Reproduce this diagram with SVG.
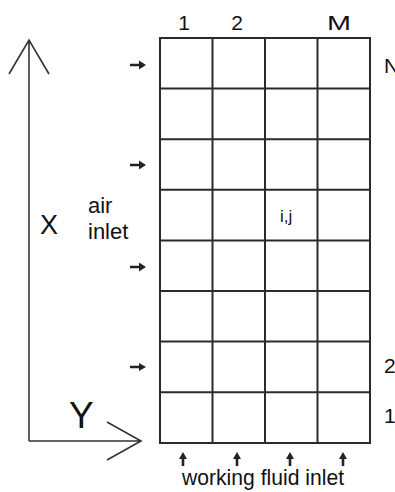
<svg xmlns="http://www.w3.org/2000/svg" width="395" height="492" viewBox="0 0 395 492">
<style>
text{font-family:"Liberation Sans",Arial,sans-serif;fill:#111}
.g{stroke:#2b2b2b;stroke-width:2;fill:none}
.ax{stroke:#333;stroke-width:1.6;fill:none}
.ar{stroke:#222;stroke-width:2.6;fill:none}
.ah{fill:#222}
</style>
<rect width="395" height="492" fill="#fff"/>
<g id="grid">
<rect class="g" x="160" y="38" width="210" height="405"/>
<path class="g" d="M212.5,38V443M265,38V443M317.5,38V443M160,88.6H370M160,139.2H370M160,189.8H370M160,240.4H370M160,291H370M160,341.6H370M160,392.2H370"/>
</g>
<g id="axes">
<path class="ax" d="M29,441V40M9,74L29,40L49,74M29,441H141M107,422L141,441L107,460"/>
<text x="69" y="428" font-size="37">Y</text>
<text x="40" y="234" font-size="27">X</text>
</g>
<g id="labels">
<text x="184" y="30" font-size="21" text-anchor="middle">1</text>
<text x="237" y="30" font-size="21" text-anchor="middle">2</text>
<text x="339" y="30" font-size="21" text-anchor="middle" textLength="24" lengthAdjust="spacingAndGlyphs">M</text>
<text x="384" y="73" font-size="21">N</text>
<text x="384" y="373" font-size="21">2</text>
<text x="384" y="423" font-size="21">1</text>
<text x="280" y="222" font-size="17">i,j</text>
<text x="88" y="213" font-size="22">air</text>
<text x="88" y="239" font-size="22">inlet</text>
<text x="182" y="485" font-size="22" textLength="162" lengthAdjust="spacingAndGlyphs">working fluid inlet</text>
</g>
<g id="connectors">
<path class="ar" d="M130,65H140M130,165H140M130,267H140M130,367H140"/>
<path class="ah" d="M139,60.5L146,65L139,69.5ZM139,160.5L146,165L139,169.5ZM139,262.5L146,267L139,271.5ZM139,363L146,367L139,371Z"/>
<path class="ar" d="M183,466V458M237,466V458M290,466V458M343,466V458" stroke-width="2.2"/>
<path class="ah" d="M179,459L183,452L187,459ZM233,459L237,452L241,459ZM286,459L290,452L294,459ZM339,459L343,452L347,459Z"/>
</g>
</svg>
